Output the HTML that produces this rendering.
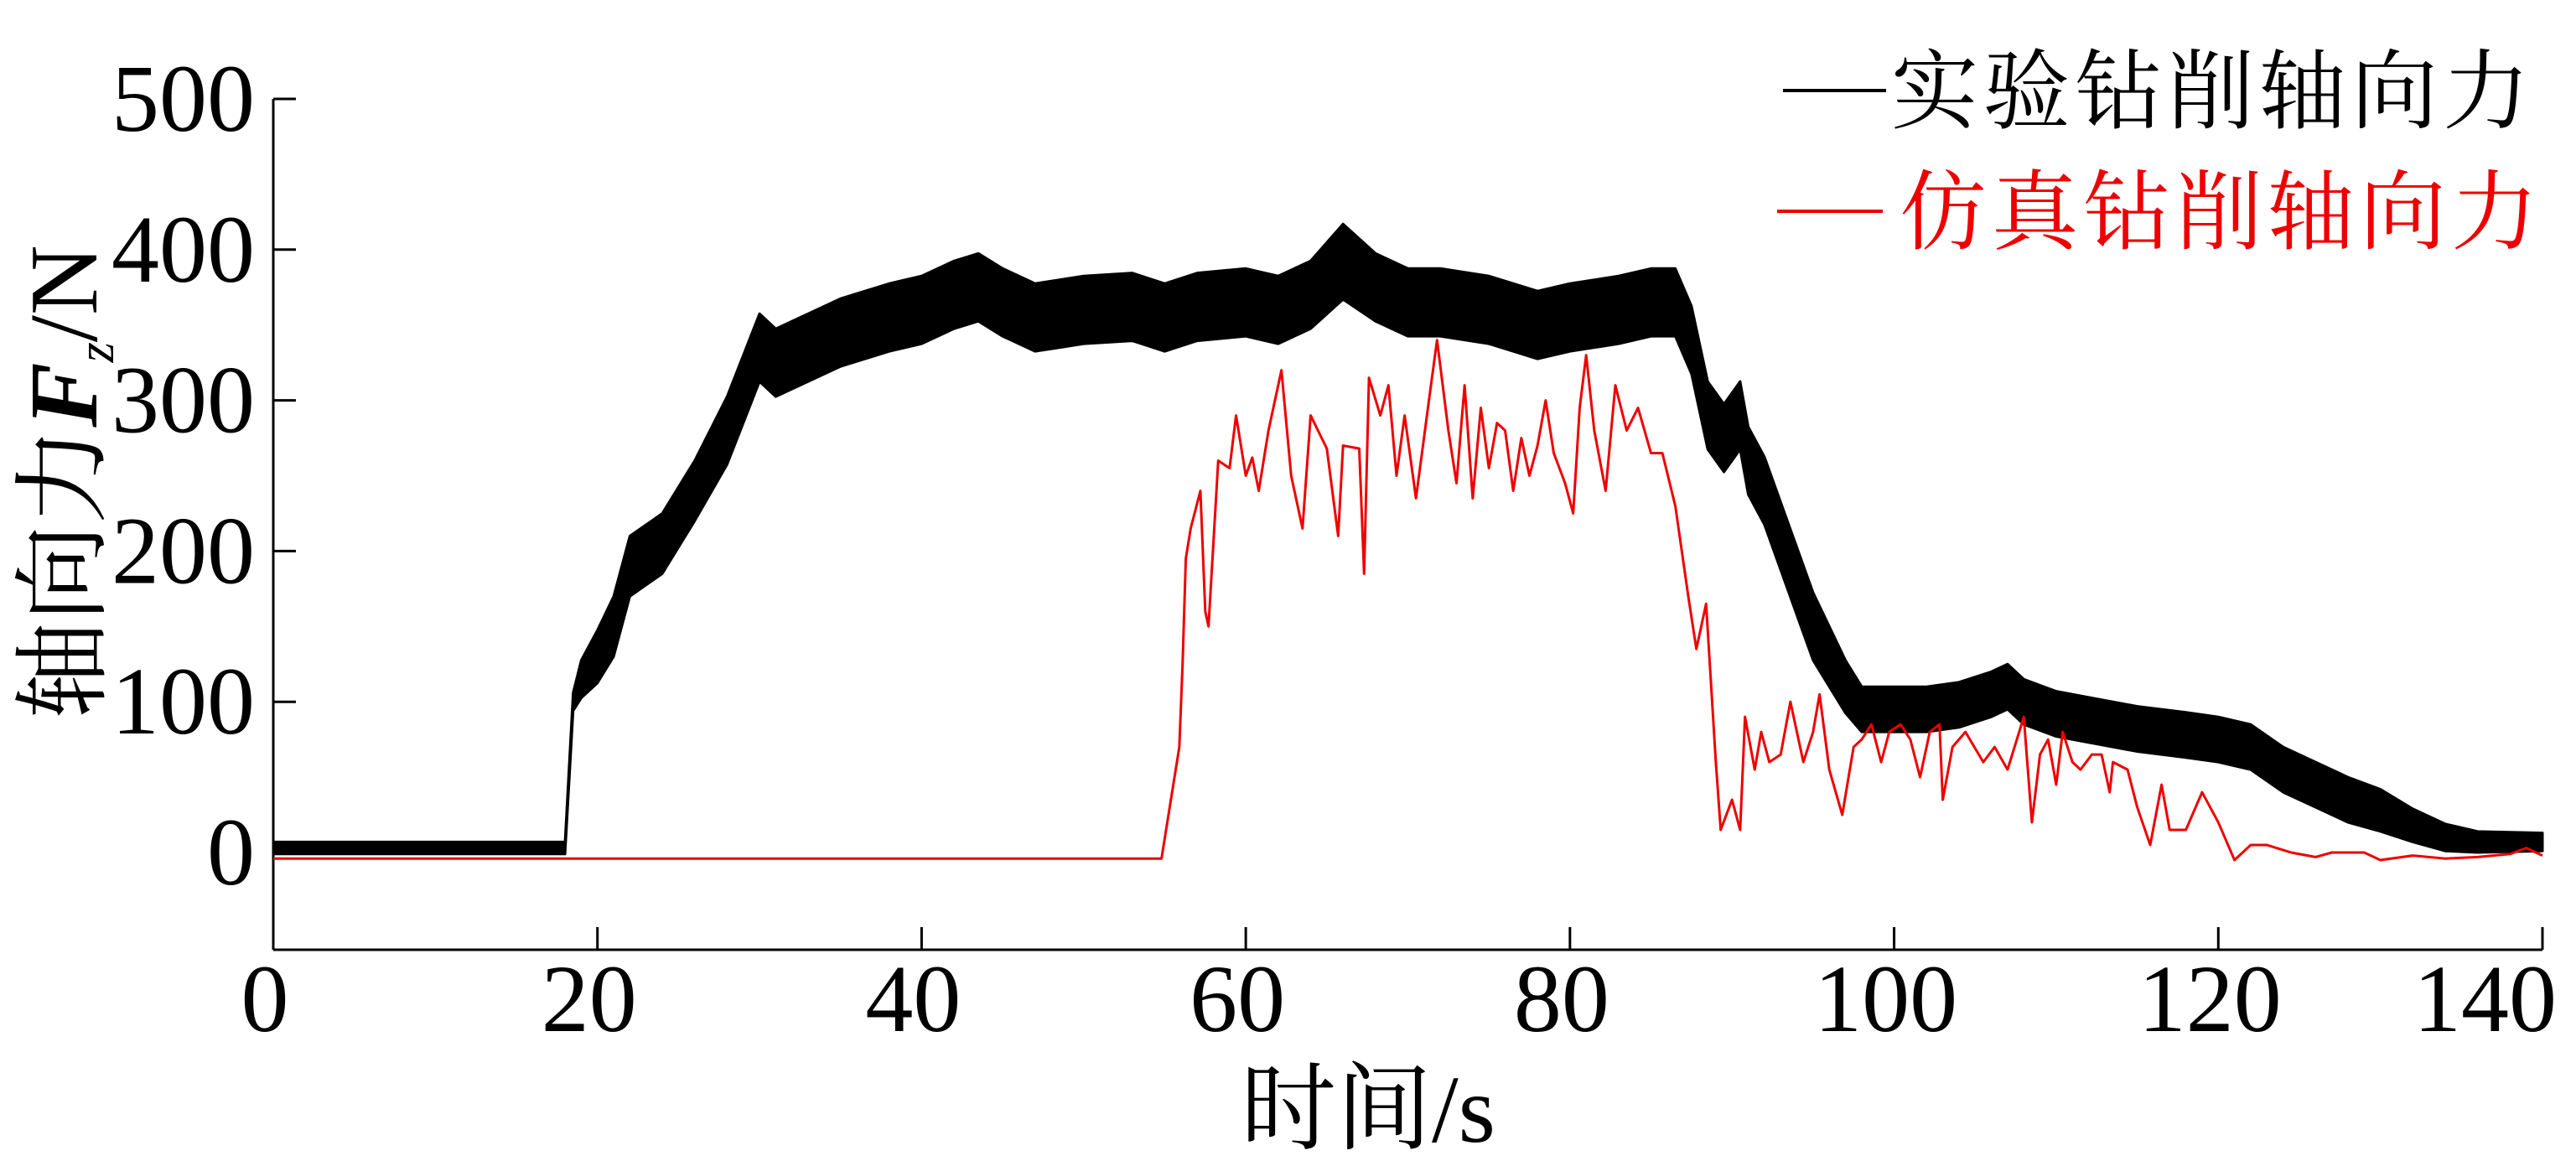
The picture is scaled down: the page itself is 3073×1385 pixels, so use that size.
<!DOCTYPE html>
<html><head><meta charset="utf-8"><style>
html,body{margin:0;padding:0;background:#fff;}
svg{display:block;}
</style></head><body>
<svg id="chart" width="3073" height="1385" viewBox="0 0 3073 1385" xmlns="http://www.w3.org/2000/svg">
<g id="axes"></g>
<g id="series"></g>
<g>
<line x1="2127" y1="108" x2="2250" y2="108" stroke="#000" stroke-width="4"/>
<text x="2256" y="145" textLength="762" font-family="Liberation Serif, Noto Serif CJK SC, serif" font-size="104" fill="#000">实验钻削轴向力</text>
<line x1="2120" y1="252" x2="2246" y2="252" stroke="#e00" stroke-width="4"/>
<text x="2266" y="289" textLength="762" font-family="Liberation Serif, Noto Serif CJK SC, serif" font-size="104" fill="#e00">仿真钻削轴向力</text>
</g>
<text transform="translate(115,575) rotate(-90)" text-anchor="middle" font-family="Liberation Serif, Noto Serif CJK SC, serif" font-size="116" fill="#000">轴向力<tspan font-style="italic" font-weight="bold">F</tspan><tspan font-style="italic" font-size="62" dy="20">z</tspan><tspan dy="-20">/N</tspan></text>
<text x="1632" y="1362" text-anchor="middle" font-family="Liberation Serif, Noto Serif CJK SC, serif" font-size="114" fill="#000">时间/s</text>
</svg>
<script>
const xTicks = [0,20,40,60,80,100,120,140];
const yTicks = [0,100,200,300,400,500];
const expTime = [0,18,18.5,19,20,21,22,24,26,28,30,31,33,35,38,40,42,43.5,45,47,50,53,55,57,60,62,64,66,68,70,72,75,78,80,83,85,86.5,87.5,88.5,89.5,90.5,91,92,93,94,95,96,97,98,100,102,104,106,107,108,110,112,115,118,120,122,124,126,128,130,132,134,136,140];
const expForce = [3,3,100,115,130,150,190,205,240,280,335,325,335,345,355,360,370,375,365,355,360,362,355,362,365,360,370,392,375,365,365,360,350,355,360,365,365,340,290,275,290,260,240,210,180,150,130,110,95,95,95,98,105,110,100,92,88,82,78,75,70,55,45,35,28,18,10,7,7];
const expBand = [8,8,12,25,35,40,40,40,40,45,45,45,45,45,45,45,45,45,45,45,45,45,45,45,45,45,45,50,45,45,45,45,45,45,45,45,45,45,45,45,45,45,45,45,45,45,40,35,30,30,30,30,30,30,30,30,30,30,30,30,30,30,30,30,28,22,18,14,12];
const simTime = [0,54.8,55.9,56.1,56.3,56.6,57.2,57.5,57.7,58.3,59,59.4,60,60.4,60.8,61.4,62.2,62.8,63.5,64,65,65.7,66,67,67.3,67.6,68.3,68.8,69.3,69.8,70.5,71.3,71.8,72.5,73,73.5,74,74.5,75,75.5,76,76.5,77,77.5,78,78.5,79,79.7,80.2,80.6,81,81.5,82.2,82.8,83.5,84.2,85,85.7,86.5,87.3,87.8,88.4,89,89.3,90,90.5,90.8,91.4,91.8,92.3,93,93.6,94.4,95,95.4,96,96.8,97.5,98,98.6,99.2,99.7,100.4,101,101.6,102.2,102.8,103,103.6,104.4,105.5,106.2,107,108,108.5,109,109.5,110,110.4,111,111.5,112.2,112.8,113.3,113.5,114.4,115,115.8,116.5,117,118,119,120,121,122,123,124.5,126,127,129,130,132,134,136,138,139,140];
const simForce = [-4,-4,70,125,195,215,240,160,150,260,255,290,250,262,240,280,320,250,215,290,268,210,270,268,185,315,290,310,250,290,235,300,340,280,245,310,235,295,255,285,280,240,275,250,270,300,265,245,225,295,330,280,240,310,280,295,265,265,230,170,135,165,60,15,35,15,90,55,80,60,65,100,60,80,105,55,25,70,75,85,60,80,85,75,50,80,85,35,70,80,60,70,55,90,20,65,75,45,80,60,55,65,65,40,60,55,30,5,45,15,15,40,20,-5,5,5,0,-3,0,0,-5,-2,-4,-3,-1,3,-2];

const X0=326, X1=3033, Y0=1017, PXPERN=1.798, YBOT=1133, YTOP=118;
const xs = t => X0 + (t/140)*(X1-X0);
const ys = v => Y0 - v*PXPERN;
const NS="http://www.w3.org/2000/svg";
const axes=document.getElementById('axes'), series=document.getElementById('series');
function mk(tag, attrs, parent){const e=document.createElementNS(NS,tag);for(const k in attrs)e.setAttribute(k,attrs[k]);parent.appendChild(e);return e;}

let yl=mk('line',{x1:X0,y1:YTOP,x2:X0,y2:YBOT,stroke:'#000','stroke-width':3},axes);


let xl=mk('line',{x1:X0,y1:YBOT,x2:X1,y2:YBOT,stroke:'#000','stroke-width':3},axes);


yTicks.forEach(v=>{
  const y=ys(v);
  const tk=mk('line',{x1:X0,y1:y,x2:X0+27,y2:y,stroke:'#000','stroke-width':3},axes);
  
  
  const tx=mk('text',{x:304,y:y+38,'text-anchor':'end','font-family':'Liberation Serif, serif','font-size':114,fill:'#000'},axes);
  tx.textContent=v;
  
  
});
xTicks.forEach((t,i)=>{
  const x=xs(t);
  const tk=mk('line',{x1:x,y1:YBOT,x2:x,y2:YBOT-27,stroke:'#000','stroke-width':3},axes);
  
  
  const last=i===xTicks.length-1;
  const tx=mk('text',{x:last?3050:x-10,y:1230,'text-anchor':last?'end':'middle','font-family':'Liberation Serif, serif','font-size':114,fill:'#000'},axes);
  tx.textContent=t;
  
  
});

let up=[],lo=[];
expTime.forEach((t,i)=>{up.push(xs(t)+','+ys(expForce[i]+expBand[i]/2));lo.unshift(xs(t)+','+ys(expForce[i]-expBand[i]/2));});
const band=mk('polygon',{points:up.concat(lo).join(' '),fill:'#000',stroke:'#000','stroke-width':3,'stroke-linejoin':'round'},series);



const sim=mk('polyline',{points:simTime.map((t,i)=>xs(t)+','+ys(simForce[i])).join(' '),fill:'none',stroke:'#e00','stroke-width':3,'stroke-linejoin':'round'},series);


</script>
</body></html>
